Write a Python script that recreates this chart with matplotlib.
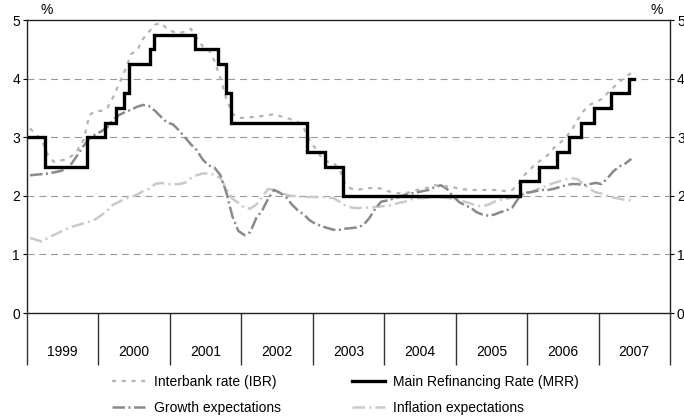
import matplotlib
matplotlib.use("Agg")
import matplotlib.pyplot as plt
from matplotlib.lines import Line2D
import numpy as np

plt.rcParams['font.family'] = ['Liberation Sans', 'DejaVu Sans']
plt.rcParams['lines.scale_dashes'] = False

# monthly values, Jan 1999 - Jun 2007
ibr = [3.15, 3.05, 2.95, 2.70, 2.58, 2.60, 2.62, 2.68, 2.78, 2.95, 3.38, 3.45,
       3.45, 3.50, 3.69, 3.92, 4.15, 4.42, 4.48, 4.68, 4.80, 4.92, 4.95, 4.85,
       4.80, 4.78, 4.80, 4.85, 4.70, 4.55, 4.50, 4.30, 4.00, 3.65, 3.40, 3.33,
       3.33, 3.34, 3.35, 3.36, 3.38, 3.39, 3.36, 3.33, 3.30, 3.26, 3.15, 2.95,
       2.80, 2.65, 2.58, 2.56, 2.45, 2.18, 2.12, 2.10, 2.12, 2.13, 2.14, 2.12,
       2.08, 2.06, 2.04, 2.05, 2.06, 2.10, 2.12, 2.14, 2.18, 2.17, 2.16, 2.15,
       2.12, 2.11, 2.10, 2.10, 2.10, 2.10, 2.10, 2.09, 2.08, 2.10, 2.20, 2.35,
       2.45, 2.55, 2.62, 2.70, 2.82, 2.90, 3.00, 3.12, 3.30, 3.45, 3.55, 3.60,
       3.65, 3.75, 3.85, 3.95, 4.02, 4.10]

growth = [2.35, 2.36, 2.37, 2.38, 2.40, 2.42, 2.45, 2.55, 2.70, 2.85, 2.98, 3.05,
          3.10, 3.17, 3.30, 3.38, 3.43, 3.47, 3.52, 3.55, 3.53, 3.45, 3.35, 3.25,
          3.22, 3.12, 3.00, 2.88, 2.78, 2.62, 2.52, 2.48, 2.35, 2.05, 1.65, 1.40,
          1.33, 1.38, 1.62, 1.75, 1.95, 2.10, 2.05, 1.98, 1.85, 1.75, 1.68, 1.58,
          1.52, 1.48, 1.45, 1.42, 1.42, 1.44, 1.45, 1.46, 1.50, 1.62, 1.78, 1.90,
          1.92, 1.95, 1.98, 2.02, 2.04, 2.06, 2.08, 2.10, 2.15, 2.18, 2.12, 2.00,
          1.90, 1.84, 1.80, 1.72, 1.68, 1.66, 1.68, 1.72, 1.75, 1.80, 1.95, 2.05,
          2.06, 2.08, 2.10, 2.10, 2.12, 2.15, 2.18, 2.20, 2.20, 2.18, 2.20, 2.22,
          2.20, 2.30, 2.42, 2.50, 2.55, 2.63]

inflation = [1.28, 1.25, 1.22, 1.28, 1.33, 1.38, 1.43, 1.47, 1.50, 1.53, 1.56, 1.60,
             1.67, 1.75, 1.85, 1.90, 1.95, 1.98, 2.02, 2.08, 2.12, 2.20, 2.22, 2.20,
             2.20, 2.20, 2.22, 2.30, 2.35, 2.38, 2.38, 2.36, 2.30, 2.12, 1.95, 1.88,
             1.80, 1.78, 1.85, 1.98, 2.12, 2.10, 2.06, 2.02, 2.00, 1.99, 1.98, 1.98,
             1.98, 1.98, 1.97, 1.96, 1.90, 1.83, 1.80, 1.79, 1.80, 1.80, 1.81, 1.82,
             1.83, 1.85, 1.88, 1.90, 1.94, 1.96, 1.96, 1.97, 1.98, 1.98, 1.97, 1.95,
             1.93, 1.90, 1.87, 1.83, 1.82, 1.85, 1.90, 1.93, 1.95, 1.97, 2.00, 2.04,
             2.06, 2.10, 2.14, 2.18, 2.22, 2.25, 2.28, 2.30, 2.28, 2.20, 2.12, 2.06,
             2.04, 2.00, 1.97, 1.95, 1.93, 1.92]

# main refinancing rate: date of change (fractional year) and new rate
mrr_dates = [1999.0, 1999.25, 1999.84, 2000.09, 2000.25, 2000.36, 2000.43, 2000.72,
             2000.78, 2001.35, 2001.68, 2001.79, 2001.86, 2002.92, 2003.17, 2003.43,
             2005.9, 2006.16, 2006.42, 2006.58, 2006.76, 2006.94, 2007.17, 2007.43, 2007.49]
mrr = [3.0, 2.5, 3.0, 3.25, 3.5, 3.75, 4.25, 4.5,
       4.75, 4.5, 4.25, 3.75, 3.25, 2.75, 2.5, 2.0,
       2.25, 2.5, 2.75, 3.0, 3.25, 3.5, 3.75, 4.0, 4.0]

years = [1999, 2000, 2001, 2002, 2003, 2004, 2005, 2006, 2007]

months = 1999 + (np.arange(len(ibr)) + 0.5) / 12

fig = plt.figure(figsize=(6.84, 4.19), dpi=100)
ax = fig.add_axes([27 / 684, 106 / 419, 643 / 684, 293 / 419])

ibr_style = dict(color='#b4b4b4', lw=1.6, dashes=(3, 4))
growth_style = dict(color='#8a8a8a', lw=1.8, dashes=(9, 2.5, 1.5, 2.5))
infl_style = dict(color='#cacaca', lw=1.8, dashes=(9, 3, 1.5, 3))
mrr_style = dict(color='black', lw=2.4)

ax.plot(months, inflation, **infl_style)
ax.plot(months, growth, **growth_style)
ax.plot(months, ibr, **ibr_style)
ax.step(mrr_dates, mrr, where='post', solid_joinstyle='miter', **mrr_style)

ax.set_xlim(1999, 2008)
ax.set_ylim(0, 5)

for v in [1, 2, 3, 4]:
    ax.axhline(v, color='#999999', lw=0.8, dashes=(5, 3.5), zorder=0)

ax.set_yticks([0, 1, 2, 3, 4, 5])
ax.tick_params(axis='y', direction='out', length=3, width=0.8, labelsize=10,
               right=True, labelright=True, pad=2)

# year separators as long major ticks, labels on minor ticks
ax.set_xticks(years + [2008])
ax.set_xticklabels([])
ax.set_xticks([y + 0.5 for y in years], minor=True)
ax.set_xticklabels([str(y) for y in years], minor=True)
ax.tick_params(axis='x', which='major', direction='out', length=37.5, width=1.0,
               color='#333333')
ax.tick_params(axis='x', which='minor', length=0, labelsize=10, pad=23)

for s in ax.spines.values():
    s.set_linewidth(1.0)
    s.set_color('#222222')

fig.text(47 / 684, 1 - 10 / 419, '%', fontsize=10, ha='center', va='center')
fig.text(657 / 684, 1 - 10 / 419, '%', fontsize=10, ha='center', va='center')

handles = [Line2D([], [], **ibr_style),
           Line2D([], [], **growth_style),
           Line2D([], [], **mrr_style),
           Line2D([], [], **infl_style)]
labels = ['Interbank rate (IBR)', 'Growth expectations',
          'Main Refinancing Rate (MRR)', 'Inflation expectations']
fig.legend(handles, labels, ncol=2, loc='upper left',
           bbox_to_anchor=(112 / 684, 1 - 375 / 419), frameon=False,
           fontsize=10, handlelength=2.4, handletextpad=0.6,
           columnspacing=5.1, labelspacing=0.85, borderpad=0, borderaxespad=0)

fig.savefig('out.png', dpi=100)
